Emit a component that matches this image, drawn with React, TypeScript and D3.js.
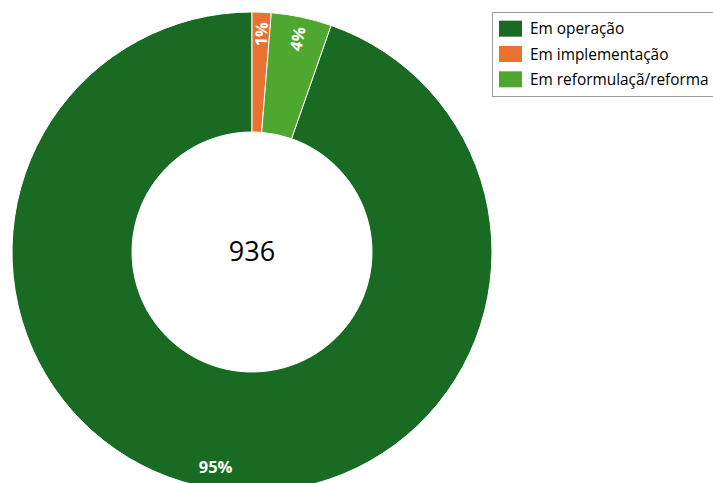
import { useEffect, useRef } from 'react';
import * as d3 from 'd3';

const categories = ['Em operação', 'Em implementação', 'Em reformulaçã/reforma'];
const counts = [886, 12, 38];
const colors = ['#196B24', '#E97132', '#4EA72E'];
const totalLabel = '936';

const width = 713;
const height = 483;

export default function App() {
  const svgRef = useRef<SVGSVGElement>(null);

  useEffect(() => {
    if (!svgRef.current) return;
    const svg = d3.select(svgRef.current);
    svg.selectAll('*').remove();

    const cx = 252;
    const cy = 252;
    const outer = 240;
    const inner = 120;
    const total = d3.sum(counts);

    // first slice (operação) starts after the two small ones, which sit at 12 o'clock
    const offset = ((total - counts[0]) / total) * 2 * Math.PI;
    const pie = d3.pie<number>().sort(null).startAngle(offset).endAngle(offset + 2 * Math.PI);
    const arcs = pie(counts);
    const arc = d3.arc<d3.PieArcDatum<number>>().innerRadius(inner).outerRadius(outer);

    const g = svg.append('g').attr('transform', `translate(${cx},${cy})`);

    g.selectAll('path')
      .data(arcs)
      .enter().append('path')
      .attr('d', arc)
      .attr('fill', (_, i) => colors[i])
      .attr('stroke', '#ffffff')
      .attr('stroke-width', 1);

    const labelR = 218;
    arcs.forEach((a) => {
      let mid = (a.startAngle + a.endAngle) / 2;
      if (mid > 2 * Math.PI) mid -= 2 * Math.PI;
      const x = labelR * Math.sin(mid);
      const y = -labelR * Math.cos(mid);
      const share = a.data / total;
      const rot = share < 0.1 ? (mid * 180) / Math.PI - 90 : 0;
      g.append('text')
        .attr('transform', `translate(${x},${y}) rotate(${rot})`)
        .attr('text-anchor', 'middle')
        .attr('dominant-baseline', 'central')
        .attr('fill', '#ffffff')
        .attr('font-family', 'Open Sans, sans-serif')
        .attr('font-weight', 700)
        .attr('font-size', 16.5)
        .text(`${Math.round(share * 100)}%`);
    });

    g.append('text')
      .attr('x', 0)
      .attr('y', 9)
      .attr('text-anchor', 'middle')
      .attr('font-family', 'Open Sans, sans-serif')
      .attr('font-size', 27)
      .attr('fill', '#000000')
      .text(totalLabel);

    // legend
    const lg = svg.append('g');
    lg.append('rect')
      .attr('x', 492.5)
      .attr('y', 12.5)
      .attr('width', 240)
      .attr('height', 84)
      .attr('fill', '#ffffff')
      .attr('stroke', '#9a9a9a')
      .attr('stroke-width', 1);

    const ly = d3.scaleBand<string>().domain(categories).range([16, 92]);
    categories.forEach((c, i) => {
      const y = ly(c)! + ly.bandwidth() / 2;
      lg.append('rect')
        .attr('x', 499)
        .attr('y', y - 8)
        .attr('width', 23)
        .attr('height', 16)
        .attr('fill', colors[i]);
      lg.append('text')
        .attr('x', 530)
        .attr('y', y)
        .attr('dominant-baseline', 'central')
        .attr('font-family', 'Open Sans, sans-serif')
        .attr('font-size', 15.4)
        .attr('fill', '#000000')
        .text(c);
    });
  }, []);

  return (
    <div style={{ position: 'absolute', left: 0, top: 0, width, height, overflow: 'hidden' }}>
      <svg ref={svgRef} width={width} height={height} style={{ display: 'block', background: '#ffffff' }} />
    </div>
  );
}
